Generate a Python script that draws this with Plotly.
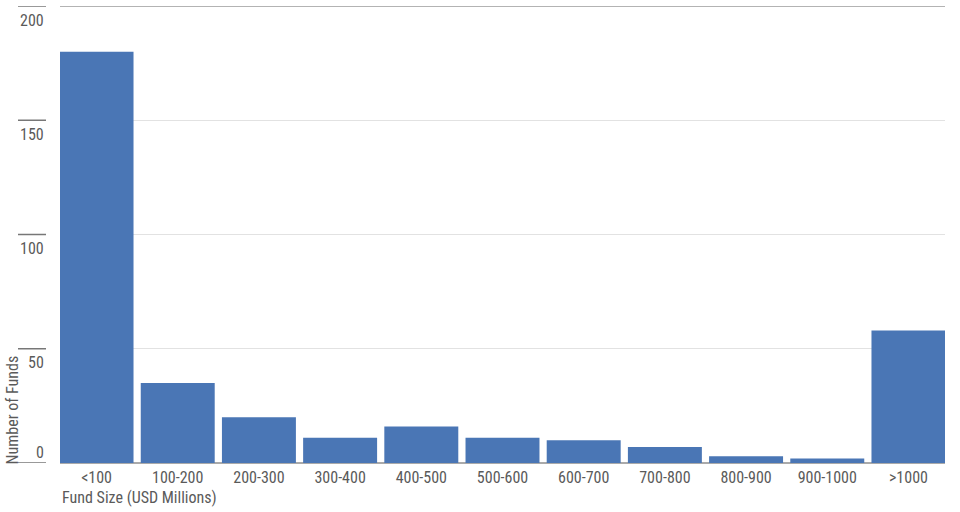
import plotly.graph_objects as go

categories = ["<100", "100-200", "200-300", "300-400", "400-500", "500-600",
              "600-700", "700-800", "800-900", "900-1000", ">1000"]
fund_counts = [180, 35, 20, 11, 16, 11, 10, 7, 3, 2, 58]
y_ticks = [0, 50, 100, 150, 200]

FONT = "Liberation Sans Narrow, Roboto Condensed, Roboto, sans-serif"
TXT = "#5a5a5a"
BAR = "#4A76B5"

fig = go.Figure(go.Bar(x=categories, y=fund_counts, marker=dict(color=BAR, line=dict(width=0))))

W_PLOT = 960 - 60 - 15
tick_x0 = (18 - 60) / W_PLOT
tick_x1 = (46 - 60) / W_PLOT

shapes = []
annotations = []
for v in y_ticks:
    shapes.append(dict(type="line", xref="paper", yref="y", x0=tick_x0, x1=tick_x1,
                       y0=v, y1=v, line=dict(color="#777777", width=1.5)))
    annotations.append(dict(xref="paper", yref="y", x=tick_x1, y=v, text=str(v),
                            xanchor="right", yanchor="middle", showarrow=False,
                            yshift=(-14 if v > 0 else 11),
                            font=dict(family=FONT, size=16, color=TXT)))
# darker top gridline
shapes.append(dict(type="line", xref="paper", yref="y", x0=0, x1=1, y0=y_ticks[-1], y1=y_ticks[-1],
                   line=dict(color="#9a9a9a", width=1.5), layer="below"))

annotations.append(dict(xref="paper", yref="paper", x=(12 - 60) / W_PLOT, y=0.115,
                        text="Number of Funds", textangle=-90, showarrow=False,
                        xanchor="center", yanchor="middle",
                        font=dict(family=FONT, size=16, color=TXT)))
annotations.append(dict(xref="paper", yref="paper", x=0, y=0, yshift=-23,
                        text="Fund Size (USD Millions)", showarrow=False,
                        xanchor="left", yanchor="top",
                        font=dict(family=FONT, size=16, color=TXT)))

fig.update_layout(
    width=960, height=512,
    margin=dict(l=60, r=15, t=6, b=49),
    plot_bgcolor="white", paper_bgcolor="white",
    bargap=0.089,
    showlegend=False,
    shapes=shapes,
    annotations=annotations,
    xaxis=dict(range=[-0.45, len(categories) - 0.55], showgrid=False, showline=False, ticks="",
               tickfont=dict(family=FONT, size=16, color=TXT),
               zeroline=False, ticklabelstandoff=3),
    yaxis=dict(range=[0, 200], tickvals=y_ticks, showticklabels=False, showgrid=True,
               gridcolor="#e2e2e2", gridwidth=1, zeroline=True, zerolinecolor="#aaaaaa",
               zerolinewidth=1.5, showline=False, ticks=""),
)

fig.write_html("out.html", config={"displayModeBar": False},
               post_script="document.body.style.margin='0';document.body.style.overflow='hidden';")
